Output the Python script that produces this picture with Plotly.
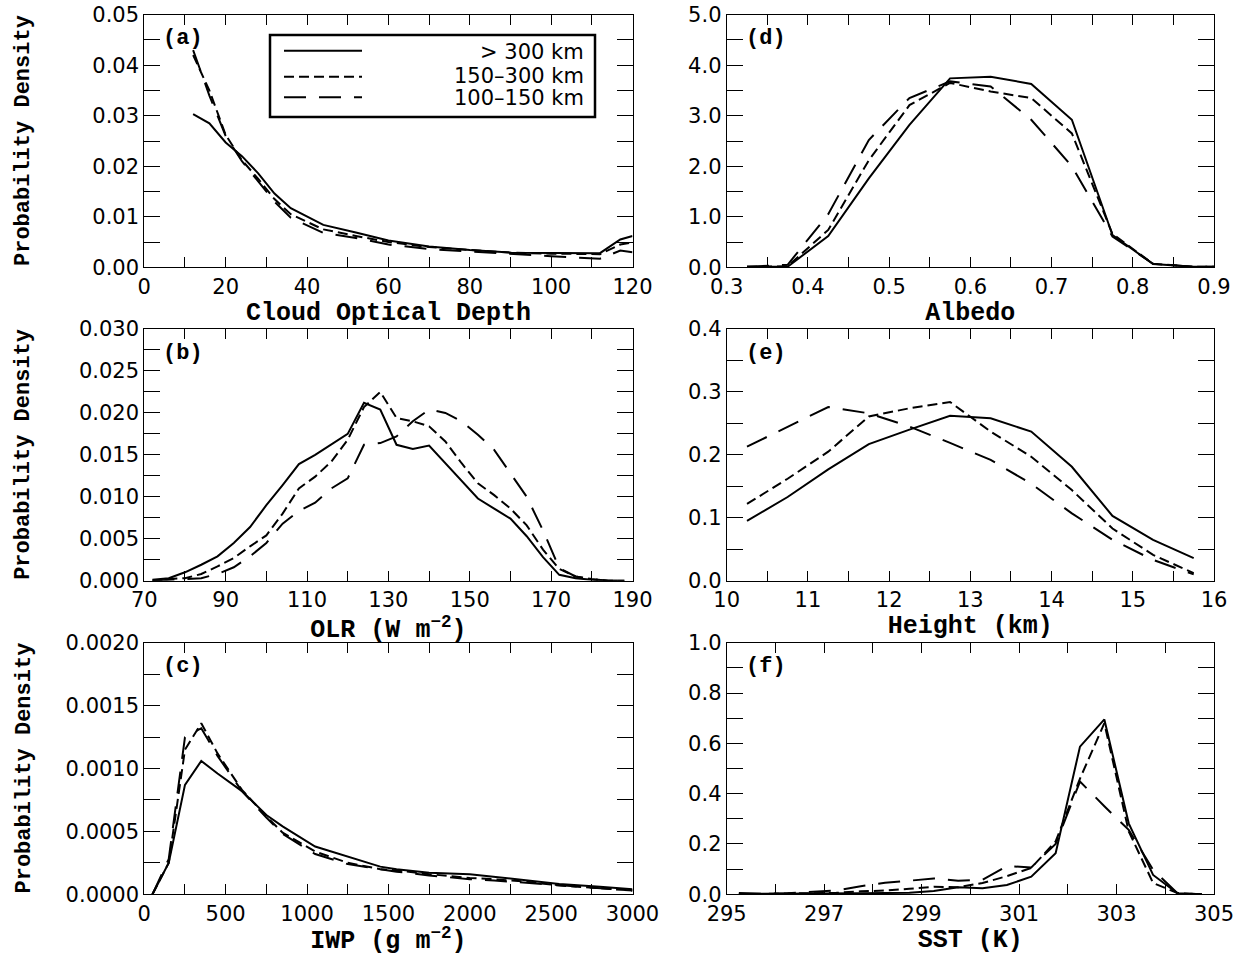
import numpy as np
import plotly.graph_objects as go

# ---------------- data ----------------
series_names = ["> 300 km", "150–300 km", "100–150 km"]

# (a) Cloud optical depth
tau_x = [12, 16, 20, 24, 28, 32, 36, 44, 52, 60, 70, 80, 90, 100, 112, 117, 120]
tau_gt300 = [0.0303, 0.0285, 0.0247, 0.0220, 0.0186, 0.0146, 0.0117, 0.0084, 0.0069, 0.0053,
             0.0041, 0.0034, 0.0029, 0.0028, 0.0028, 0.0055, 0.0062]
tau_150_300 = [0.0420, 0.0350, 0.0262, 0.0212, 0.0175, 0.0135, 0.0105, 0.0075, 0.0062, 0.0050,
               0.0040, 0.0034, 0.0029, 0.0027, 0.0026, 0.0045, 0.0049]
tau_100_150 = [0.0430, 0.0340, 0.0260, 0.0210, 0.0170, 0.0130, 0.0098, 0.0068, 0.0058, 0.0045,
               0.0036, 0.0031, 0.0026, 0.0022, 0.0017, 0.0033, 0.0030]

# (b) OLR
olr_x = [72, 76, 80, 84, 88, 92, 96, 100, 104, 108, 112, 116, 120, 124, 128, 132, 136, 140,
         144, 148, 152, 156, 160, 164, 168, 172, 176, 180, 184, 188]
olr_gt300 = [0.0001, 0.0003, 0.0010, 0.0019, 0.0029, 0.0045, 0.0064, 0.0090, 0.0114, 0.0139,
             0.0150, 0.0162, 0.0175, 0.0212, 0.0204, 0.0162, 0.0157, 0.0161, 0.0140, 0.0120,
             0.0098, 0.0086, 0.0074, 0.0053, 0.0028, 0.0007, 0.0003, 0.0001, 0.0000, 0.0000]
olr_150_300 = [0.0000, 0.0002, 0.0003, 0.0008, 0.0017, 0.0027, 0.0041, 0.0054, 0.0080, 0.0110,
               0.0124, 0.0142, 0.0168, 0.0207, 0.0225, 0.0194, 0.0190, 0.0184, 0.0166, 0.0140,
               0.0116, 0.0102, 0.0086, 0.0066, 0.0037, 0.0014, 0.0005, 0.0002, 0.0000, 0.0000]
olr_100_150 = [0.0000, 0.0001, 0.0002, 0.0003, 0.0008, 0.0016, 0.0029, 0.0045, 0.0068, 0.0083,
               0.0093, 0.0110, 0.0122, 0.0162, 0.0164, 0.0172, 0.0190, 0.0204, 0.0200, 0.0190,
               0.0174, 0.0156, 0.0128, 0.0100, 0.0060, 0.0015, 0.0005, 0.0002, 0.0000, 0.0000]

# (c) IWP
iwp_x = [50, 150, 250, 350, 450, 600, 750, 850, 1050, 1250, 1450, 1550, 1750, 2000, 2150,
         2350, 2550, 2800, 3000]
iwp_gt300 = [0.0, 0.00025, 0.00087, 0.00106, 0.00096, 0.00082, 0.00063, 0.00054, 0.00038,
             0.00030, 0.00022, 0.00020, 0.000172, 0.00016, 0.00014, 0.000114, 0.000082,
             0.00006, 0.00004]
iwp_150_300 = [0.0, 0.00025, 0.00115, 0.00136, 0.00112, 0.00083, 0.00062, 0.00049, 0.00034,
               0.00025, 0.00020, 0.00019, 0.00016, 0.00013, 0.00012, 0.00010, 0.00007,
               0.00005, 0.00003]
iwp_100_150 = [0.0, 0.00028, 0.00125, 0.00132, 0.00110, 0.00082, 0.00061, 0.00048, 0.00032,
               0.00024, 0.00020, 0.00018, 0.00015, 0.00012, 0.00011, 0.00009, 0.00007,
               0.00005, 0.00003]

# (d) Albedo
alb_x = [0.325, 0.375, 0.425, 0.475, 0.525, 0.575, 0.625, 0.675, 0.725, 0.775, 0.825, 0.875, 0.9]
alb_gt300 = [0.01, 0.01, 0.62, 1.76, 2.82, 3.74, 3.77, 3.63, 2.92, 0.64, 0.065, 0.01, 0.01]
alb_150_300 = [0.01, 0.02, 0.74, 2.12, 3.21, 3.65, 3.48, 3.35, 2.65, 0.66, 0.07, 0.01, 0.01]
alb_100_150 = [0.01, 0.05, 1.05, 2.52, 3.35, 3.68, 3.58, 2.92, 2.00, 0.61, 0.07, 0.01, 0.01]

# (e) Height
hgt_x = [10.25, 10.75, 11.25, 11.75, 12.25, 12.75, 13.25, 13.75, 14.25, 14.75, 15.25, 15.75]
hgt_gt300 = [0.095, 0.133, 0.177, 0.217, 0.240, 0.262, 0.258, 0.237, 0.181, 0.103, 0.065, 0.036]
hgt_150_300 = [0.122, 0.162, 0.205, 0.261, 0.274, 0.284, 0.237, 0.197, 0.144, 0.083, 0.041, 0.012]
hgt_100_150 = [0.213, 0.245, 0.276, 0.266, 0.245, 0.219, 0.192, 0.154, 0.107, 0.065, 0.033, 0.010]

# (f) SST
sst_x = [295.25, 295.75, 296.25, 296.75, 297.25, 297.75, 298.25, 298.75, 299.25, 299.75,
         300.25, 300.75, 301.25, 301.75, 302.25, 302.75, 303.25, 303.75, 304.25, 304.75]
sst_gt300 = [0.002, 0.002, 0.002, 0.002, 0.003, 0.004, 0.005, 0.006, 0.013, 0.028,
             0.024, 0.037, 0.070, 0.163, 0.587, 0.695, 0.282, 0.077, 0.004, 0.000]
sst_150_300 = [0.000, 0.002, 0.003, 0.004, 0.006, 0.012, 0.015, 0.022, 0.030, 0.028,
               0.045, 0.072, 0.105, 0.210, 0.460, 0.680, 0.250, 0.045, 0.005, 0.000]
sst_100_150 = [0.005, 0.002, 0.004, 0.010, 0.015, 0.032, 0.046, 0.054, 0.063, 0.054,
               0.058, 0.112, 0.107, 0.200, 0.448, 0.350, 0.256, 0.097, 0.004, 0.000]

# tick labels
a_xlabels = ["0", "20", "40", "60", "80", "100", "120"]
a_ylabels = ["0.00", "0.01", "0.02", "0.03", "0.04", "0.05"]
b_xlabels = ["70", "90", "110", "130", "150", "170", "190"]
b_ylabels = ["0.000", "0.005", "0.010", "0.015", "0.020", "0.025", "0.030"]
c_xlabels = ["0", "500", "1000", "1500", "2000", "2500", "3000"]
c_ylabels = ["0.0000", "0.0005", "0.0010", "0.0015", "0.0020"]
d_xlabels = ["0.3", "0.4", "0.5", "0.6", "0.7", "0.8", "0.9"]
d_ylabels = ["0.0", "1.0", "2.0", "3.0", "4.0", "5.0"]
e_xlabels = ["10", "11", "12", "13", "14", "15", "16"]
e_ylabels = ["0.0", "0.1", "0.2", "0.3", "0.4"]
f_xlabels = ["295", "297", "299", "301", "303", "305"]
f_ylabels = ["0.0", "0.2", "0.4", "0.6", "0.8", "1.0"]

# ---------------- figure ----------------
W, H = 1250, 956
col_x = [(144.3, 632.5), (726.7, 1214.0)]
row_y = [(14.7, 267.3), (329.0, 580.7), (642.7, 894.3)]

dash_styles = ["solid", "10px,5px", "22px,13px"]
TICKFONT = dict(family="DejaVu Sans", size=21, color="black")
TITLEFONT = dict(family="Liberation Mono", size=25, color="black", weight="bold")
LABELFONT = dict(family="Liberation Mono", size=22, color="black", weight="bold")

panels = [
    ("(a)", 0, 0, tau_x, [tau_gt300, tau_150_300, tau_100_150], (0, 120), 10, a_xlabels,
     (0, 0.05), 0.005, a_ylabels, "Cloud Optical Depth"),
    ("(b)", 1, 0, olr_x, [olr_gt300, olr_150_300, olr_100_150], (70, 190), 10, b_xlabels,
     (0, 0.03), 0.0025, b_ylabels, "OLR (W m<sup>−2</sup>)"),
    ("(c)", 2, 0, iwp_x, [iwp_gt300, iwp_150_300, iwp_100_150], (0, 3000), 250, c_xlabels,
     (0, 0.002), 0.00025, c_ylabels, "IWP (g m<sup>−2</sup>)"),
    ("(d)", 0, 1, alb_x, [alb_gt300, alb_150_300, alb_100_150], (0.3, 0.9), 0.05, d_xlabels,
     (0, 5), 0.5, d_ylabels, "Albedo"),
    ("(e)", 1, 1, hgt_x, [hgt_gt300, hgt_150_300, hgt_100_150], (10, 16), 0.5, e_xlabels,
     (0, 0.4), 0.05, e_ylabels, "Height (km)"),
    ("(f)", 2, 1, sst_x, [sst_gt300, sst_150_300, sst_100_150], (295, 305), 1, f_xlabels,
     (0, 1.0), 0.1, f_ylabels, "SST (K)"),
]

fig = go.Figure()
layout = dict(width=W, height=H, margin=dict(l=0, r=0, t=0, b=0, pad=0),
              paper_bgcolor="white", plot_bgcolor="white", showlegend=False)
annotations = []
shapes = []


def tickset(lo, hi, step, labels):
    n = int(round((hi - lo) / step))
    allv = [lo + i * step for i in range(n + 1)]
    every = int(round(n / (len(labels) - 1)))
    major = allv[::every]
    minor = [v for i, v in enumerate(allv) if i % every != 0]
    return major, minor


for k, (lab, r, c, xs, ys, xr, xstep, xlabels, yr, ystep, ylabels, xtitle) in enumerate(panels):
    idx = k + 1
    xa = "xaxis" if idx == 1 else f"xaxis{idx}"
    ya = "yaxis" if idx == 1 else f"yaxis{idx}"
    xref = "x" if idx == 1 else f"x{idx}"
    yref = "y" if idx == 1 else f"y{idx}"
    for s, yv in enumerate(ys):
        fig.add_trace(go.Scatter(x=xs, y=yv, mode="lines", name=series_names[s],
                                 line=dict(color="black", width=2, dash=dash_styles[s]),
                                 xaxis=xref, yaxis=yref))
    x0, x1 = col_x[c]
    y0, y1 = row_y[r]
    xmaj, xmin = tickset(xr[0], xr[1], xstep, xlabels)
    ymaj, ymin = tickset(yr[0], yr[1], ystep, ylabels)
    layout[xa] = dict(domain=[x0 / W, x1 / W], range=list(xr), anchor=yref, automargin=False,
                      tickmode="array", tickvals=xmaj, ticktext=xlabels,
                      ticks="inside", ticklen=10, tickwidth=1, tickcolor="black",
                      minor=dict(tickmode="array", tickvals=xmin, ticks="inside", ticklen=10,
                                 tickwidth=1, tickcolor="black", showgrid=False),
                      showline=True, linecolor="black", linewidth=1, mirror="ticks",
                      showgrid=False, zeroline=False, tickfont=TICKFONT,
                      title=dict(text=xtitle, font=TITLEFONT, standoff=0))
    layout[ya] = dict(domain=[1 - y1 / H, 1 - y0 / H], range=list(yr), anchor=xref,
                      automargin=False,
                      tickmode="array", tickvals=ymaj, ticktext=ylabels,
                      ticks="inside", ticklen=16, tickwidth=1, tickcolor="black",
                      minor=dict(tickmode="array", tickvals=ymin, ticks="inside", ticklen=16,
                                 tickwidth=1, tickcolor="black", showgrid=False),
                      showline=True, linecolor="black", linewidth=1, mirror="ticks",
                      showgrid=False, zeroline=False, tickfont=TICKFONT)
    # panel label
    annotations.append(dict(text=lab, xref=f"{xref} domain", yref=f"{yref} domain",
                            x=17 / (x1 - x0), y=1 - 24 / (y1 - y0), xanchor="left",
                            yanchor="middle", showarrow=False, font=LABELFONT))
    if c == 0:
        annotations.append(dict(text="Probability Density", xref="paper", yref="paper",
                                x=24 / W, y=1 - (y0 + y1) / 2 / H, xanchor="center",
                                yanchor="middle", textangle=-90, showarrow=False,
                                font=LABELFONT))

# legend inside panel (a)
ax0, ax1 = col_x[0]
ay0, ay1 = row_y[0]
pw, ph = ax1 - ax0, ay1 - ay0


def dx(px):
    return (px - ax0) / pw


def dy(py):
    return 1 - (py - ay0) / ph


shapes.append(dict(type="rect", xref="x domain", yref="y domain",
                   x0=dx(270), x1=dx(595), y0=dy(117), y1=dy(35),
                   line=dict(color="black", width=2.5), fillcolor="white"))
for s, (ly, ty) in enumerate([(50.7, 52.3), (76.7, 75.5), (97.3, 98.3)]):
    shapes.append(dict(type="line", xref="x domain", yref="y domain",
                       x0=dx(284), x1=dx(362), y0=dy(ly), y1=dy(ly),
                       line=dict(color="black", width=2, dash=dash_styles[s])))
    annotations.append(dict(text=series_names[s], xref="x domain", yref="y domain",
                            x=dx(586), y=dy(ty), xanchor="right", yanchor="middle",
                            showarrow=False, font=dict(family="DejaVu Sans", size=21,
                                                       color="black")))

layout["annotations"] = annotations
layout["shapes"] = shapes
fig.update_layout(**layout)
fig.write_html("out.html", config={"displayModeBar": False},
               post_script="document.body.style.margin='0px';document.body.style.padding='0px';")
